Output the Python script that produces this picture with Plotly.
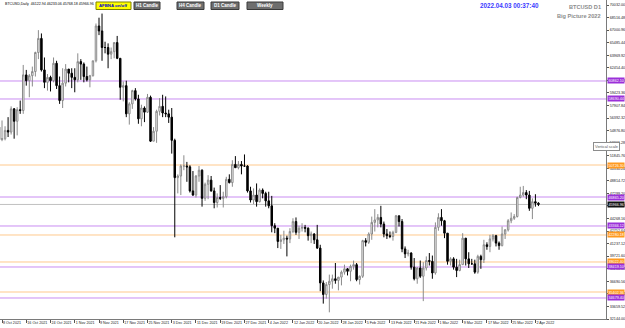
import pandas as pd
import plotly.graph_objects as go

# ---------------- data ----------------
dates = pd.date_range("2021-10-07", "2022-04-03", freq="D")

opens = [55300, 53800, 53900, 54900, 54700, 57500, 56000, 57400, 57300, 61600, 60900, 61500, 62000, 64300, 66000,
         62200, 60700, 61300, 60900, 63000, 60300, 58500, 60600, 62300, 61800,
         61300, 61000, 63200, 62900, 61400, 61000, 61500, 63300, 67500, 66900, 64900, 64900, 64100, 64400, 65500,
         63600, 60100, 60300, 56900, 58100, 59700, 58700, 56300, 57600, 57100, 58900, 53600, 54800, 57200, 57800,
         57000, 56900, 56500, 53700, 49200, 49400, 50600, 50600, 50500, 47600, 47100, 49400, 50100, 46700, 48400,
         48900, 47600, 46200, 46800, 46700, 46900, 49000, 48600, 50800, 50400, 50800, 50600, 50600, 47600, 46500,
         47100,
         46300, 47700, 47300, 46400, 45800, 43400, 43100, 41500, 41700, 41900, 41800, 42700, 43900, 42600, 43100,
         43200, 43100, 42200, 42400, 41700, 40700, 36500, 35100, 36300, 36700, 37000, 36800, 37200, 37800, 38200,
         37900,
         38500, 38700, 36900, 37300, 41600, 41400, 42400, 43800, 44100, 44400, 43600, 42400, 42200, 42100, 42600,
         44600, 43900, 40600, 40000, 40100, 38400, 37000, 38300, 37300, 38300, 39200, 39100, 37700,
         43200, 44400, 44000, 42500, 39100, 39400, 38400, 38000, 38700, 41900, 39400, 38800, 38800, 37800, 39700,
         39300, 41100, 40900, 41800, 42200, 41300, 41000, 42400, 42900, 44000, 44300, 44500, 46800, 47100, 47400,
         47100,
         45500, 46300, 46122.94]
highs = [55300, 56100, 55400, 56500, 57800, 57600, 57700, 58500, 62800, 62200, 61700, 62600, 64400, 67000, 66600,
         63700, 61700, 61500, 63700, 63300, 61400, 62400, 62900, 62300, 62400,
         62400, 64200, 63500, 63100, 62600, 61600, 63300, 67800, 68500, 69000, 65600, 65400, 64900, 65500, 66300,
         63600, 60800, 60900, 58300, 59800, 60000, 59200, 58000, 57800, 59300, 59100, 55300, 57400, 58800, 59200,
         59000, 57400, 57600, 53900, 49600, 50800, 51900, 51100, 50700, 50000, 49500, 50600, 50200, 48600, 49500,
         49400, 48000, 47300, 48300, 47500, 49300, 49600, 51300, 51800, 51200, 51200, 52000, 50700, 48100, 47900,
         48500,
         47900, 47900, 47500, 47500, 47000, 43700, 43100, 42300, 42800, 42200, 43100, 44300, 44400, 43400, 43700,
         43500, 43200, 42700, 42500, 43500, 41100, 36800, 36600, 37500, 37500, 38900, 37200, 38000, 38700, 38300,
         38700,
         39200, 38900, 37400, 41700, 41900, 42600, 44500, 45400, 44800, 45800, 43900, 43000, 42700, 42800, 44700,
         44600, 44200, 40900, 40500, 40200, 39500, 38400, 39200, 39000, 39700, 40100, 39800, 43800,
         44900, 45400, 44100, 42500, 39600, 39600, 39400, 39300, 42500, 41900, 40200, 39400, 39300, 39900, 39900,
         41700, 41400, 42300, 42400, 42300, 41500, 43300, 43000, 44200, 45000, 44800, 46900, 48100, 48200, 47700,
         47600,
         46700, 47200, 46233.06]
lows = [53400, 53600, 53700, 54100, 54400, 53900, 54300, 56900, 56900, 60300, 58900, 60200, 61400, 63500, 62000,
        60000, 59700, 59600, 60700, 59900, 58100, 57600, 60200, 60700, 60000,
        59500, 60700, 61000, 60700, 60800, 60100, 61400, 63100, 66400, 63300, 64200, 62400, 63500, 63600, 63500,
        58600, 58400, 56500, 55600, 57500, 58500, 55700, 55400, 55900, 57000, 53500, 53600, 53400, 56700, 56500,
        56500, 55800, 52100, 42000, 47300, 47100, 50100, 48700, 47400, 47000, 46800, 48700, 45700, 46400, 46600,
        47500, 45500, 45600, 46500, 45600, 46700, 48500, 48100, 50400, 50200, 49600, 50500, 47400, 46200, 46000,
        45700,
        46200, 46700, 45700, 45500, 42600, 42500, 40700, 40600, 41200, 39700, 41300, 42500, 42300, 41800, 42700,
        42600, 41600, 41300, 41200, 40600, 35500, 34000, 34600, 32950, 35800, 36400, 35600, 36200, 37500, 37400,
        36700,
        38100, 36700, 36300, 37100, 40900, 41200, 41700, 42700, 43200, 43200, 42000, 41800, 41900, 41600, 42500,
        43300, 40200, 39500, 39700, 38100, 36800, 36400, 37100, 34300, 38000, 38600, 37000, 37500,
        42800, 43400, 41900, 38700, 38600, 38100, 37200, 37900, 38700, 38600, 38300, 38700, 37600, 37600, 38200,
        38900, 40500, 40200, 41500, 40900, 40500, 40900, 41800, 42700, 43700, 44100, 44400, 46700, 46900, 46600,
        45200,
        44200, 45700, 45768.18]
closes = [53800, 53900, 54900, 54700, 57500, 56000, 57400, 57300, 61600, 60900, 61500, 62000, 64300, 66000, 62200,
          60700, 61300, 60900, 63000, 60300, 58500, 60600, 62300, 61800, 61300,
          61000, 63200, 62900, 61400, 61000, 61500, 63300, 67500, 66900, 64900, 64900, 64100, 64400, 65500, 63600,
          60100, 60300, 56900, 58100, 59700, 58700, 56300, 57600, 57100, 58900, 53600, 54800, 57200, 57800, 57000,
          56900, 56500, 53700, 49200, 49400, 50600, 50600, 50500, 47600, 47100, 49400, 50100, 46700, 48400, 48900,
          47600, 46200, 46800, 46700, 46900, 49000, 48600, 50800, 50400, 50800, 50600, 50600, 47600, 46500, 47100,
          46300,
          47700, 47300, 46400, 45800, 43400, 43100, 41500, 41700, 41900, 41800, 42700, 43900, 42600, 43100, 43200,
          43100, 42200, 42400, 41700, 40700, 36500, 35100, 36300, 36700, 37000, 36800, 37200, 37800, 38200, 37900,
          38500,
          38700, 36900, 37300, 41600, 41400, 42400, 43800, 44100, 44400, 43600, 42400, 42200, 42100, 42600, 44600,
          43900, 40600, 40000, 40100, 38400, 37000, 38300, 37300, 38300, 39200, 39100, 37700, 43200,
          44400, 44000, 42500, 39100, 39400, 38400, 38000, 38700, 41900, 39400, 38800, 38800, 37800, 39700, 39300,
          41100, 40900, 41800, 42200, 41300, 41000, 42400, 42900, 44000, 44300, 44500, 46800, 47100, 47400, 47100,
          45500,
          46300, 46122.94, 45966.96]

level_prices = [60862.10, 58690.44, 50726.30, 46865.20, 43366.12, 42280.18, 39022.40, 38419.10, 35402.36, 34679.40]
level_kinds = ["purple", "purple", "orange", "purple", "purple", "orange", "orange", "purple", "orange", "purple"]
bid_price = 45966.96

ytick_vals = [70032.00, 68516.48, 67000.96, 65485.44, 63969.92, 62454.40, 60938.88, 59423.36, 57907.84,
              56392.32, 54876.80, 53361.28, 51845.76, 50330.24, 48814.72, 47299.20, 45783.68, 44268.16,
              42752.64, 41237.12, 39721.60, 38206.08, 36690.56, 35175.04, 33659.52, 32144.00]

xtick_dates = ["2021-10-08", "2021-10-16", "2021-10-24", "2021-11-01", "2021-11-09", "2021-11-17", "2021-11-25",
               "2021-12-03", "2021-12-11", "2021-12-19", "2021-12-27", "2022-01-04", "2022-01-12", "2022-01-20",
               "2022-01-28", "2022-02-05", "2022-02-13", "2022-02-21", "2022-03-01", "2022-03-09", "2022-03-17",
               "2022-03-25", "2022-04-02"]
xtick_text = ["8 Oct 2021", "16 Oct 2021", "24 Oct 2021", "1 Nov 2021", "9 Nov 2021", "17 Nov 2021",
              "25 Nov 2021", "3 Dec 2021", "11 Dec 2021", "19 Dec 2021", "27 Dec 2021", "4 Jan 2022",
              "12 Jan 2022", "20 Jan 2022", "28 Jan 2022", "5 Feb 2022", "13 Feb 2022", "21 Feb 2022",
              "1 Mar 2022", "9 Mar 2022", "17 Mar 2022", "25 Mar 2022", "2 Apr 2022"]

buttons = ["H1 Candle", "H4 Candle", "D1 Candle", "Weekly"]

# ---------------- styles ----------------
W, H = 625, 328
ML, MR, MT, MB = 0, 19, 0, 9
PW = W - ML - MR
PH = H - MT - MB
line_col = {"purple": "#c98cf2", "orange": "#ffc98c"}
lab_col = {"purple": "#9b30d9", "orange": "#ff9a1f"}
FONT = "Liberation Sans, Arial, sans-serif"
SMALL = 3.7

fig = go.Figure()
fig.add_trace(go.Candlestick(
    x=dates, open=opens, high=highs, low=lows, close=closes,
    increasing=dict(line=dict(color="#8a8a8a", width=1), fillcolor="#ffffff"),
    decreasing=dict(line=dict(color="#000000", width=1), fillcolor="#000000"),
    whiskerwidth=0, hoverinfo="skip", showlegend=False,
))

shapes = []
annotations = []

for p, k in zip(level_prices, level_kinds):
    shapes.append(dict(type="line", xref="paper", x0=0, x1=1, yref="y", y0=p, y1=p,
                       line=dict(color=line_col[k], width=1), layer="below"))
    annotations.append(dict(xref="paper", x=1.0, xanchor="left", yref="y", y=p, yanchor="middle",
                            text=f"{p:.2f}", showarrow=False, bgcolor=lab_col[k], borderpad=0.5,
                            font=dict(size=SMALL, color="#ffffff", family=FONT), xshift=1))

# bid line
shapes.append(dict(type="line", xref="paper", x0=0, x1=1, yref="y", y0=bid_price, y1=bid_price,
                   line=dict(color="#c0c0c0", width=1), layer="below"))
annotations.append(dict(xref="paper", x=1.0, xanchor="left", yref="y", y=bid_price, yanchor="middle",
                        text=f"{bid_price:.2f}", showarrow=False, bgcolor="#111111", borderpad=0.5,
                        font=dict(size=SMALL, color="#ffffff", family=FONT), xshift=1))


def px_x(px):
    return (px - ML) / PW


def px_y(py):
    return 1 - (py - MT) / PH


# header text
annotations.append(dict(xref="paper", yref="paper", x=px_x(3), y=px_y(4), xanchor="left", yanchor="middle",
                        text="BTCUSD,Daily  46122.94 46233.06 45768.18 45966.96", showarrow=False,
                        font=dict(size=3.6, color="#000000", family=FONT)))

# yellow toggle button
shapes.append(dict(type="rect", xref="paper", yref="paper", x0=px_x(96), x1=px_x(131), y0=px_y(9.5), y1=px_y(2),
                   fillcolor="#ffff00", line=dict(color="#808000", width=1)))
annotations.append(dict(xref="paper", yref="paper", x=px_x(113.5), y=px_y(5.8), xanchor="center", yanchor="middle",
                        text="<b>AFBNA on/off</b>", showarrow=False,
                        font=dict(size=4.3, color="#0000cc", family=FONT)))

btn_pos = [(134, 160), (177, 204), (211, 239), (247, 283)]
for (a, b), t in zip(btn_pos, buttons):
    shapes.append(dict(type="rect", xref="paper", yref="paper", x0=px_x(a), x1=px_x(b), y0=px_y(9.5), y1=px_y(2),
                       fillcolor="#6e6e6e", line=dict(color="#3a3a3a", width=1)))
    annotations.append(dict(xref="paper", yref="paper", x=px_x((a + b) / 2), y=px_y(5.8), xanchor="center",
                            yanchor="middle", text=f"<b>{t}</b>", showarrow=False,
                            font=dict(size=4.5, color="#ffffff", family=FONT)))

# top-right texts
annotations.append(dict(xref="paper", yref="paper", x=px_x(509), y=px_y(5.5), xanchor="center", yanchor="middle",
                        text="<b>2022.04.03 00:37:40</b>", showarrow=False,
                        font=dict(size=6.3, color="#3b3bff", family=FONT)))
annotations.append(dict(xref="paper", yref="paper", x=px_x(603), y=px_y(7), xanchor="right", yanchor="middle",
                        text="<b>BTCUSD D1</b>", showarrow=False,
                        font=dict(size=5.6, color="#8c8c8c", family=FONT)))
annotations.append(dict(xref="paper", yref="paper", x=px_x(603), y=px_y(16), xanchor="right", yanchor="middle",
                        text="<b>Big Picture 2022</b>", showarrow=False,
                        font=dict(size=5.6, color="#8c8c8c", family=FONT)))

# tooltip
annotations.append(dict(xref="paper", yref="paper", x=px_x(593), y=px_y(146.5), xanchor="left", yanchor="middle",
                        text="Vertical scale", showarrow=False, bgcolor="#ffffff", bordercolor="#8c8c8c",
                        borderwidth=1, borderpad=1, font=dict(size=3.9, color="#555555", family=FONT)))

fig.update_layout(
    width=W, height=H,
    margin=dict(l=ML, r=MR, t=MT, b=MB, autoexpand=False),
    paper_bgcolor="#ffffff", plot_bgcolor="#ffffff",
    shapes=shapes, annotations=annotations,
    showlegend=False,
    font=dict(family=FONT, size=5, color="#222222"),
    xaxis=dict(type="date", range=["2021-10-07 08:00", "2022-04-25 07:00"],
               rangeslider=dict(visible=False), automargin=False,
               tickvals=xtick_dates, ticktext=xtick_text, ticklabelposition="outside right", tickangle=0,
               ticks="outside", ticklen=3, tickcolor="#555555",
               tickfont=dict(size=SMALL, color="#222222", family=FONT),
               showgrid=False, zeroline=False,
               showline=True, linecolor="#7a7a7a", linewidth=1, mirror=True),
    yaxis=dict(side="right", range=[32144.0, 70635.0], automargin=False,
               tickvals=ytick_vals, ticktext=[f"{v:.2f}" for v in ytick_vals],
               ticks="outside", ticklen=2, tickcolor="#555555",
               tickfont=dict(size=SMALL, color="#222222", family=FONT),
               showgrid=False, zeroline=False,
               showline=True, linecolor="#7a7a7a", linewidth=1, mirror=True),
)

fig.write_html("out.html")
